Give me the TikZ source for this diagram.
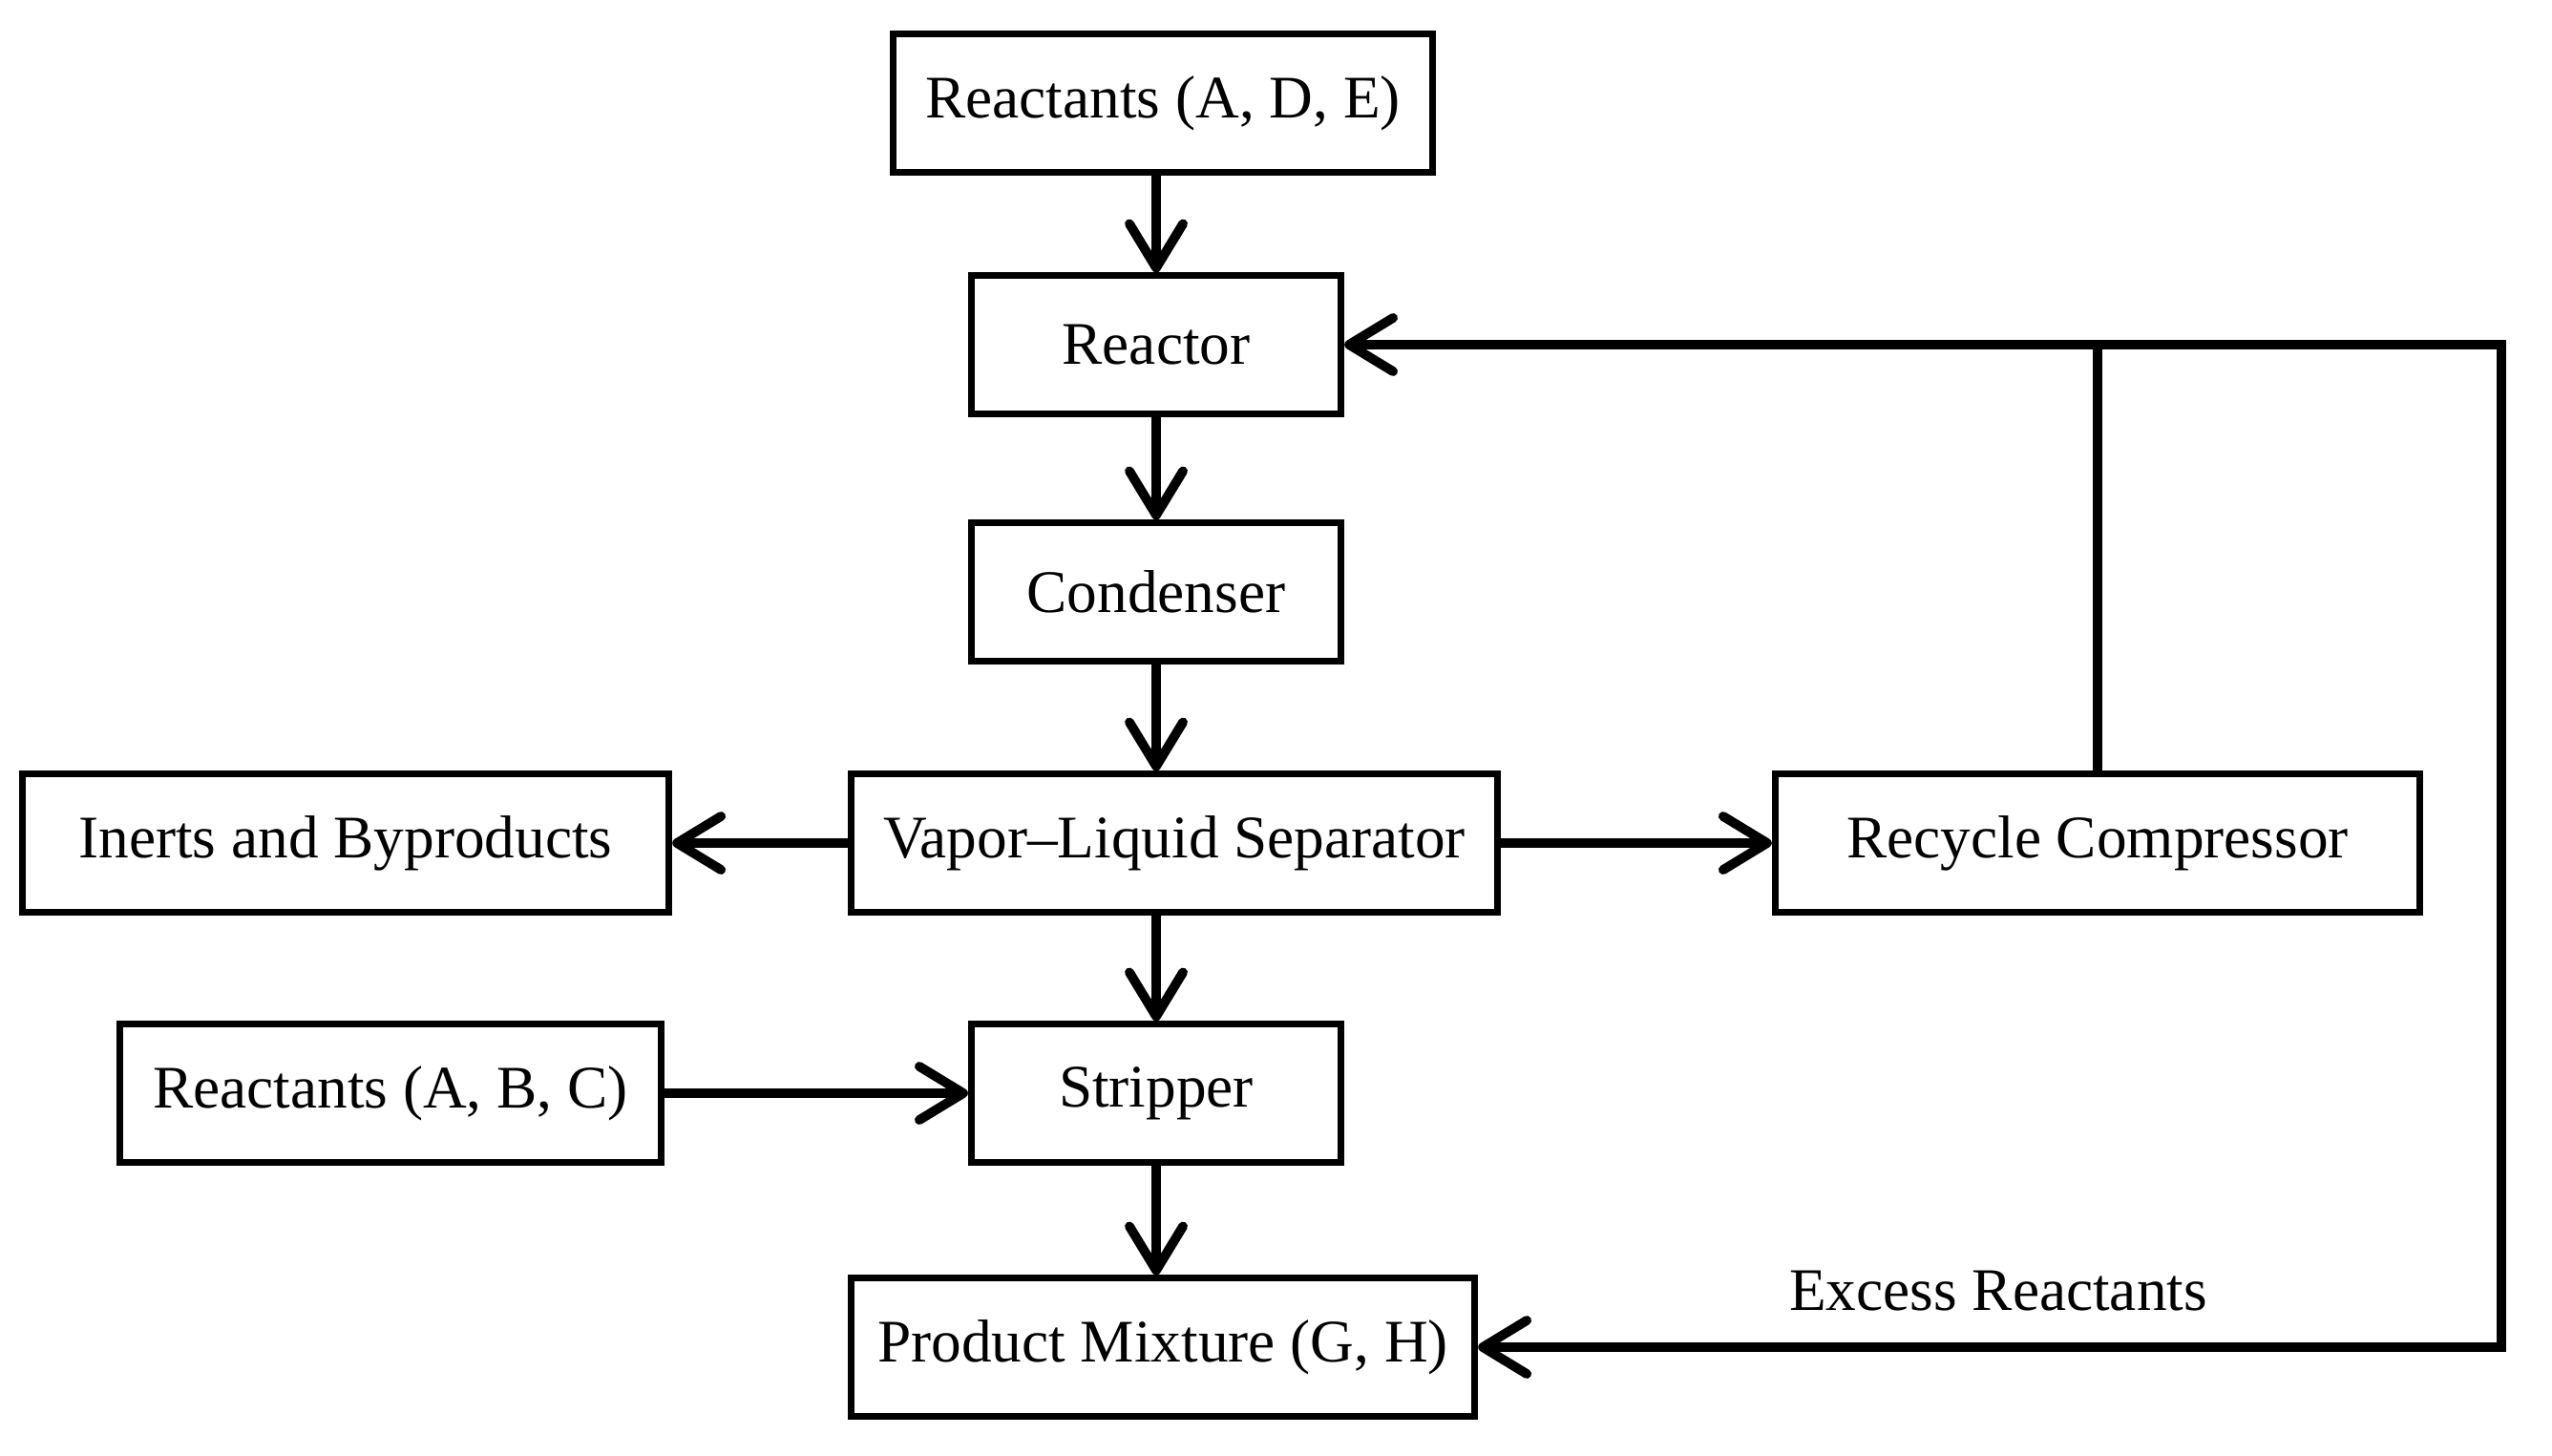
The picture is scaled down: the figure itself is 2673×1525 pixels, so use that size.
\documentclass[tikz,border=0pt]{standalone}
\usepackage{fontspec}
\setmainfont{Liberation Serif}
\usetikzlibrary{arrows.meta,positioning}

\begin{document}
\begin{tikzpicture}[x=0.01cm, y=-0.01cm,
		->,
		>={Straight Barb[length=4.6mm,width=5.6mm,round]},
		flow/.style={line width=2.8pt},
		unitbox/.style={rectangle,draw,line width=2pt,minimum height=1.44cm,inner sep=2pt,
			font=\fontsize{18}{21.6}\selectfont},
		labelnode/.style={inner sep=1pt,font=\fontsize{18}{21.6}\selectfont}]
		
		\useasboundingbox (0, 0) rectangle (2673, 1525);
		
		\node[unitbox,minimum width=5.64cm] (rade) at (1218, 108) {Reactants (A, D, E)};
		\node[unitbox,minimum width=3.87cm] (reactor) at (1211, 361) {Reactor};
		\node[unitbox,minimum width=3.87cm] (cond) at (1211, 620) {Condenser};
		\node[unitbox,minimum width=6.76cm] (sep) at (1230, 883) {Vapor\textendash Liquid Separator};
		\node[unitbox,minimum width=6.77cm] (inert) at (362, 883) {Inerts and Byproducts};
		\node[unitbox,minimum width=6.75cm] (comp) at (2197, 883) {Recycle Compressor};
		\node[unitbox,minimum width=5.66cm] (rabc) at (409, 1145) {Reactants (A, B, C)};
		\node[unitbox,minimum width=3.87cm] (strip) at (1211, 1145) {Stripper};
		\node[unitbox,minimum width=6.53cm] (prod) at (1218, 1411) {Product Mixture (G, H)};
		
		\coordinate (split) at (2197, 361);
		\coordinate (rt) at (2620, 361);
		\coordinate (rb) at (2620, 1411);
		\node[labelnode] (excess) at (2093, 1352) {Excess Reactants};
		
		\draw[flow] (rade.south -| reactor) to (reactor.north);
		\draw[flow] (reactor.south) to (cond.north);
		\draw[flow] (cond.south) to (cond.south |- sep.north);
		\draw[flow] (sep.west) to (inert.east);
		\draw[flow] (sep.east) to (comp.west);
		\draw[flow] (sep.south -| strip) to (strip.north);
		\draw[flow] (rabc.east) to (strip.west);
		\draw[flow] (strip.south) to (strip.south |- prod.north);
		
		\draw[flow] (comp.north) |- (reactor.east);
		\draw[flow] (split) -- (rt) -- (rb) -- (prod.east);
		
	\end{tikzpicture}
\end{document}
